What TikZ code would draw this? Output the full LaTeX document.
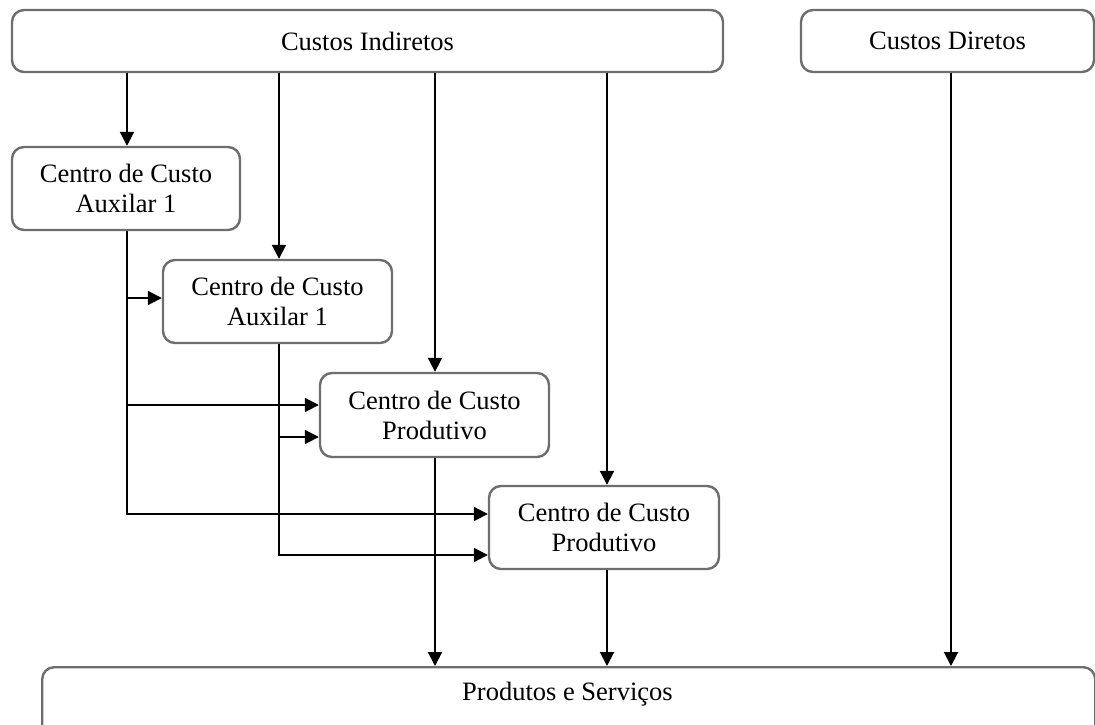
\documentclass[tikz,border=0pt]{standalone}
\usepackage{fontspec}
\setmainfont{Liberation Serif}
\usetikzlibrary{arrows.meta,calc}
\definecolor{boxline}{HTML}{6E6E6E}
\tikzset{
  costbox/.style={draw=boxline, line width=2.4pt, rounded corners=12pt,
    fill=white, align=center, inner sep=0pt,
    font=\fontsize{26.5}{30}\selectfont},
  flow/.style={line width=2pt, -{Triangle[length=14pt,width=14pt]}},
}
\begin{document}
\begin{tikzpicture}[x=1pt,y=-1pt]
\useasboundingbox (0,0) rectangle (1095,725);
\clip (0,0) rectangle (1095,725);

% cost sources
\node[costbox, minimum width=711pt, minimum height=62pt] (ci) at (367.5,41) {Custos Indiretos};
\node[costbox, minimum width=293pt, minimum height=62pt] (cd) at (947.5,41) {Custos Diretos};

% cost centres
\node[costbox, minimum width=228pt, minimum height=83pt] (a1) at (126,188.5) {Centro de Custo\\Auxilar 1};
\node[costbox, minimum width=229pt, minimum height=83pt] (a2) at (277.5,301.5) {Centro de Custo\\Auxilar 1};
\node[costbox, minimum width=229pt, minimum height=84pt] (p1) at (434.5,415) {Centro de Custo\\Produtivo};
\node[costbox, minimum width=230pt, minimum height=83pt] (p2) at (604,527.5) {Centro de Custo\\Produtivo};

% products (runs past the lower edge)
\node[costbox, minimum width=1053pt, minimum height=110pt, anchor=north west] (pr) at (41,666) {};
\node[font=\fontsize{26.5}{30}\selectfont] (prlabel) at (567.5,694) {Produtos e Serviços};

% distribution columns
\coordinate (c1) at (127,0);
\coordinate (c2) at (279,0);
\coordinate (c3) at (435,0);
\coordinate (c4) at (607,0);
\coordinate (c5) at (951,0);

% indirect costs to each centre
\draw[flow] (ci.south -| c1) -- (a1.north -| c1);
\draw[flow] (ci.south -| c2) -- (a2.north -| c2);
\draw[flow] (ci.south -| c3) -- (p1.north -| c3);
\draw[flow] (ci.south -| c4) -- (p2.north -| c4);

% auxiliary centre 1 allocations
\draw[flow] (a1.south -| c1) |- (p2.west |- 0,514);
\draw[flow] (c1 |- 0,298) -- (a2.west |- 0,298);
\draw[flow] (c1 |- 0,405) -- (p1.west |- 0,405);

% auxiliary centre 2 allocations
\draw[flow] (a2.south -| c2) |- (p2.west |- 0,555);
\draw[flow] (c2 |- 0,437) -- (p1.west |- 0,437);

% into products and services
\draw[flow] (p1.south -| c3) -- (pr.north -| c3);
\draw[flow] (p2.south -| c4) -- (pr.north -| c4);
\draw[flow] (cd.south -| c5) -- (pr.north -| c5);
\end{tikzpicture}
\end{document}
